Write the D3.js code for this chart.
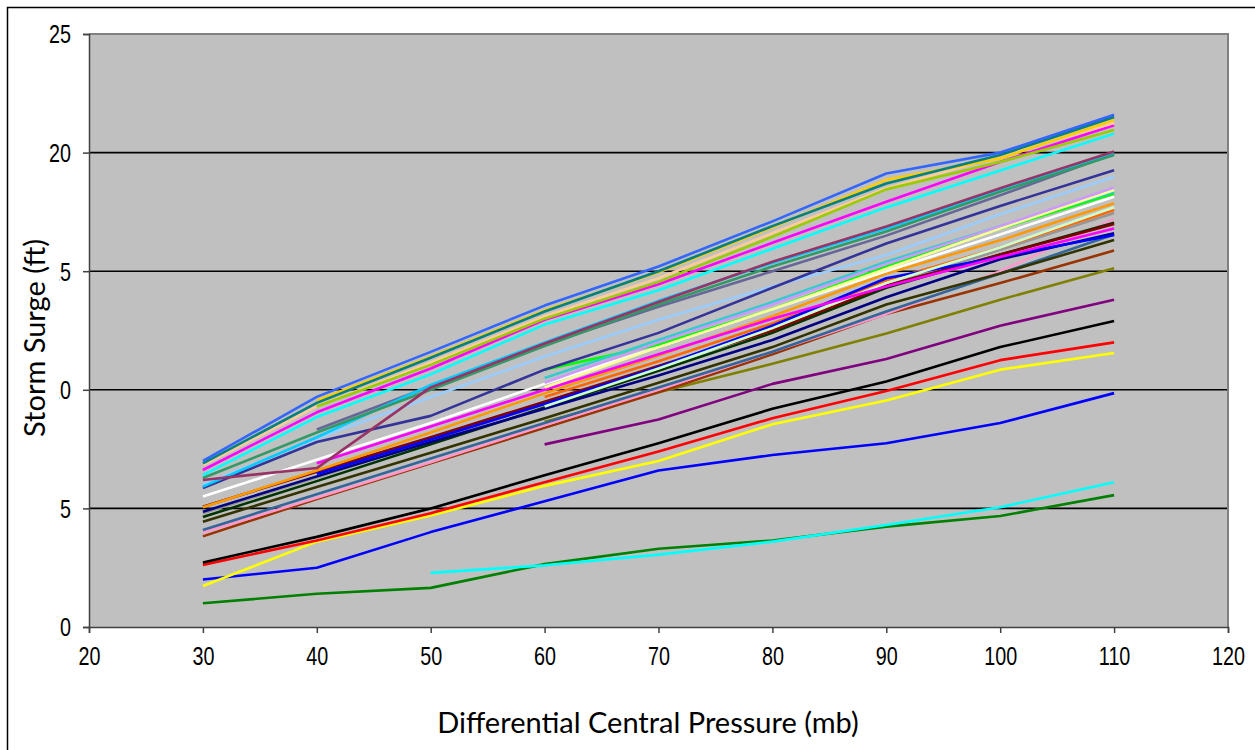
<!DOCTYPE html>
<html>
<head>
<meta charset="utf-8">
<script src="https://cdn.jsdelivr.net/npm/d3@7"></script>
<style>
  html, body { margin: 0; padding: 0; background: #fff; }
  svg { display: block; }
</style>
</head>
<body>
<svg id="chart" width="1255" height="750"></svg>
<script>
// ---------------- DATA ----------------
const pressures = [30, 40, 50, 60, 70, 80, 90, 100, 110];
const xTickValues = [20, 30, 40, 50, 60, 70, 80, 90, 100, 110, 120];
const yTickValues = [0, 5, 10, 15, 20, 25];
const xAxisTitle = "Differential Central Pressure (mb)";
const yAxisTitle = "Storm Surge (ft)";

const seriesColors = [
  "#008000", "#00FFFF", "#0000FF", "#FFFF00", "#FF0000", "#000000",
  "#800080", "#808000", "#993300", "#FF99CC", "#336699", "#333300",
  "#003300", "#969696", "#000080", "#800000", "#FF9900", "#FF6600",
  "#0000FF", "#CCFFCC", "#FF00FF", "#FFFFFF", "#00FF00", "#33CCCC",
  "#FFFF99", "#CC99FF", "#99CCFF", "#333399", "#666699", "#00CCFF",
  "#339966", "#993366", "#00FFFF", "#FF00FF", "#FFCC99", "#99CC00",
  "#FFCC00", "#008080", "#3366FF"
];

const seriesValues = [
  [1.0, 1.4, 1.65, 2.65, 3.3, 3.65, 4.23, 4.68, 5.56],
  [null, null, 2.28, 2.6, 3.05, 3.6, 4.3, 5.05, 6.1],
  [2.0, 2.5, 4.0, 5.3, 6.6, 7.25, 7.75, 8.6, 9.86],
  [1.73, 3.6, 4.7, 5.95, 7.0, 8.55, 9.55, 10.85, 11.55],
  [2.62, 3.65, 4.8, 6.1, 7.4, 8.8, 9.95, 11.25, 12.0],
  [2.72, 3.8, 5.0, 6.4, 7.75, 9.2, 10.35, 11.8, 12.9],
  [null, null, null, 7.7, 8.75, 10.25, 11.3, 12.7, 13.8],
  [null, null, null, 8.65, 9.9, 11.1, 12.37, 13.8, 15.12],
  [3.82, 5.4, 6.9, 8.4, 9.9, 11.5, 13.2, 14.5, 15.87],
  [3.98, 5.45, 6.95, 8.5, 10.0, 11.6, 13.2, 15.0, 17.2],
  [4.09, 5.6, 7.1, 8.6, 10.1, 11.6, 13.3, 14.9, 16.55],
  [4.44, 5.9, 7.35, 8.8, 10.3, 11.8, 13.6, 14.9, 16.32],
  [4.64, 6.15, 7.7, 9.25, 10.8, 12.4, 14.3, 15.7, 17.04],
  [4.8, 6.3, 7.85, 9.4, 11.0, 12.6, 14.4, 15.9, 17.45],
  [4.86, 6.35, 7.8, 9.2, 10.6, 12.1, 13.9, 15.5, 16.6],
  [5.07, 6.55, 8.0, 9.5, 11.0, 12.5, 14.4, 15.7, 16.99],
  [5.05, 6.6, 8.2, 9.85, 11.45, 13.1, 14.9, 16.3, 17.86],
  [null, null, null, 9.7, 11.2, 12.8, 14.6, 16.0, 17.58],
  [null, 6.45, 7.9, 9.4, 10.95, 12.7, 14.7, 15.6, 16.53],
  [null, null, null, 9.3, 10.9, 12.6, 14.5, 16.0, 17.7],
  [null, 6.9, 8.45, 10.0, 11.5, 13.0, 14.35, 15.6, 16.8],
  [5.5, 7.05, 8.6, 10.25, 11.8, 13.4, 15.0, 16.55, 18.14],
  [null, null, null, 10.85, 11.9, 13.4, 15.2, 16.8, 18.28],
  [null, null, null, 10.5, 12.1, 13.7, 15.4, 16.9, 18.35],
  [null, null, null, 10.1, 11.8, 13.4, 15.1, 16.8, 18.42],
  [null, null, null, 10.3, 12.0, 13.6, 15.3, 16.9, 18.53],
  [6.0, 7.95, 9.7, 11.4, 12.95, 14.35, 15.68, 17.4, 18.98],
  [5.86, 7.8, 8.9, 10.85, 12.4, 14.3, 16.17, 17.75, 19.26],
  [null, 8.33, 10.15, 11.9, 13.5, 15.0, 16.5, 18.2, 19.95],
  [5.92, 8.0, 10.2, 12.0, 13.75, 15.35, 16.8, 18.4, 19.95],
  [6.28, 8.2, 10.0, 11.85, 13.6, 15.2, 16.67, 18.35, 19.9],
  [6.2, 6.7, 10.1, 11.95, 13.7, 15.4, 16.88, 18.5, 20.05],
  [6.4, 8.85, 10.65, 12.75, 14.2, 15.95, 17.69, 19.25, 20.8],
  [6.62, 9.05, 10.9, 12.95, 14.45, 16.2, 17.93, 19.6, 21.15],
  [6.83, 9.3, 11.15, 13.1, 14.7, 16.6, 18.5, 19.85, 21.25],
  [null, 9.3, 11.05, 13.0, 14.55, 16.45, 18.45, 19.6, 20.95],
  [null, 9.55, 11.4, 13.35, 14.95, 16.85, 18.85, 19.75, 21.37],
  [6.9, 9.45, 11.35, 13.3, 15.0, 16.9, 18.7, 19.9, 21.5],
  [7.0, 9.7, 11.6, 13.55, 15.2, 17.1, 19.12, 20.0, 21.6]
];

// ---------------- CHART ----------------
const svg = d3.select("#chart");
const plot = { left: 89, right: 1228, top: 34, bottom: 627 };

const x = d3.scaleLinear().domain([20, 120]).range([plot.left, plot.right]);
const y = d3.scaleLinear().domain([0, 25]).range([plot.bottom, plot.top]);

// outer chart border
svg.append("rect")
  .attr("x", 7.5).attr("y", 7.5)
  .attr("width", 1300).attr("height", 800)
  .attr("fill", "#fff").attr("stroke", "#000").attr("stroke-width", 1.5);

// plot area
svg.append("rect")
  .attr("x", plot.left).attr("y", plot.top)
  .attr("width", plot.right - plot.left).attr("height", plot.bottom - plot.top)
  .attr("fill", "#C0C0C0");

// gridlines
svg.append("g")
  .selectAll("line")
  .data(yTickValues.filter(v => v > 0 && v < 25))
  .join("line")
  .attr("x1", plot.left).attr("x2", plot.right)
  .attr("y1", d => y(d)).attr("y2", d => y(d))
  .attr("stroke", "#000").attr("stroke-width", 1.6);

// plot border (top/right)
svg.append("path")
  .attr("d", `M${plot.left},${plot.top}H${plot.right}V${plot.bottom}`)
  .attr("fill", "none").attr("stroke", "#808080").attr("stroke-width", 2);

// series
const line = d3.line()
  .defined(d => d.v != null)
  .x(d => x(d.p))
  .y(d => y(d.v));

svg.append("g")
  .selectAll("path")
  .data(seriesValues.map((vals, i) => ({ color: seriesColors[i], pts: vals.map((v, j) => ({ p: pressures[j], v })) })))
  .join("path")
  .attr("d", d => line(d.pts))
  .attr("fill", "none")
  .attr("stroke", d => d.color)
  .attr("stroke-width", 2.6)
  .attr("stroke-linejoin", "round");

// clip for y labels (leading digits hidden behind the axis-title box in the original)
const defs = svg.append("defs");
defs.append("clipPath").attr("id", "yLabelClip")
  .append("path")
  .attr("d", "M0,0H90V750H0Z M0,232H59V445H0Z")
  .attr("clip-rule", "evenodd");

const tickFont = "'Liberation Sans', Arial, sans-serif";
const tickSize = 26;
const tickSquash = 0.76;

// y axis
const yAxis = svg.append("g")
  .attr("transform", `translate(${plot.left},0)`)
  .call(d3.axisLeft(y).tickValues(yTickValues).tickSize(6).tickFormat(d3.format("d")));
yAxis.select(".domain").attr("stroke", "#404040").attr("stroke-width", 1.5);
yAxis.selectAll(".tick line").attr("stroke", "#404040").attr("stroke-width", 1.5);

const yLabelLayer = svg.append("g").attr("clip-path", "url(#yLabelClip)");
yAxis.selectAll(".tick").each(function (d) {
  const label = d3.select(this).select("text");
  yLabelLayer.append("g")
    .attr("transform", `translate(71,${y(d)}) scale(${tickSquash},1)`)
    .append("text")
    .attr("dy", "0.36em")
    .attr("text-anchor", "end")
    .attr("font-family", tickFont).attr("font-size", tickSize).attr("fill", "#000")
    .text(label.text());
  label.remove();
});

// x axis
const xAxis = svg.append("g")
  .attr("transform", `translate(0,${plot.bottom})`)
  .call(d3.axisBottom(x).tickValues(xTickValues).tickSize(6).tickFormat(d3.format("d")));
xAxis.select(".domain").attr("stroke", "#404040").attr("stroke-width", 1.5);
xAxis.selectAll(".tick line").attr("stroke", "#404040").attr("stroke-width", 1.5);
xAxis.selectAll(".tick text")
  .attr("y", 0).attr("dy", 0)
  .attr("transform", `translate(0,38) scale(${tickSquash},1)`)
  .attr("font-family", tickFont).attr("font-size", tickSize).attr("fill", "#000");

// axis titles
const titleFont = "Lato, 'Open Sans', sans-serif";
svg.append("text")
  .attr("x", 648).attr("y", 733)
  .attr("text-anchor", "middle")
  .attr("font-family", titleFont)
  .attr("font-size", 29).attr("fill", "#000")
  .text(xAxisTitle);

svg.append("text")
  .attr("transform", "translate(45,338) rotate(-90)")
  .attr("text-anchor", "middle")
  .attr("font-family", titleFont)
  .attr("font-size", 29).attr("fill", "#000")
  .text(yAxisTitle);
</script>
</body>
</html>
